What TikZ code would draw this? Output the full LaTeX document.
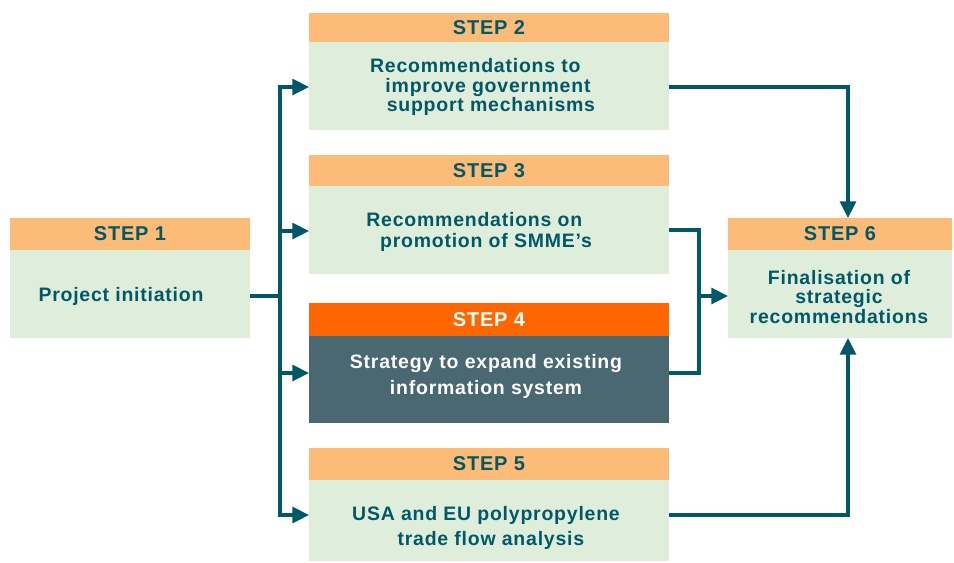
\documentclass[tikz,border=0pt]{standalone}
\usepackage{fontspec}
\setmainfont{Liberation Sans}[LetterSpace=4]
\usetikzlibrary{arrows.meta}
\definecolor{teal}{HTML}{005868}
\definecolor{hdr}{HTML}{FDBB78}
\definecolor{bodyg}{HTML}{DFEEDB}
\definecolor{hdrdark}{HTML}{FF6600}
\definecolor{bodydark}{HTML}{4A6872}
\tikzset{
  box/.style={rectangle, inner sep=0pt, outer sep=0pt, draw=none},
  hdrbox/.style={box, fill=hdr, text=teal, font=\fontsize{15}{15}\selectfont\bfseries},
  greenbox/.style={box, fill=bodyg},
  txt/.style={inner sep=0pt, align=center, text=teal},
  conn/.style={draw=teal, line width=2.4pt},
  arr/.style={conn, -{Triangle[length=12.5pt,width=12pt]}},
}
\begin{document}
\begin{tikzpicture}[x=0.75pt,y=-0.75pt]
\useasboundingbox (0,0) rectangle (954,562);
% Step 1
\node[hdrbox, minimum width=180pt, minimum height=24pt] (h1) at (130,234) {STEP 1};
\node[greenbox, minimum width=180pt, minimum height=66pt] (b1) at (130,294) {};
\node[txt, font=\fontsize{14.6}{14.6}\selectfont\bfseries] (t1) at (121,296) {Project initiation};
% Step 2
\node[hdrbox, minimum width=270pt, minimum height=21.75pt] (h2) at (489,27.5) {STEP 2};
\node[greenbox, minimum width=270pt, minimum height=66pt] (b2) at (489,86) {};
\node[txt, font=\fontsize{14.6}{14.4}\selectfont\bfseries] (t2) at (488,87) {Recommendations to\hspace*{1.3em}\\improve government\\\hspace*{0.3em}support mechanisms};
% Step 3
\node[hdrbox, minimum width=270pt, minimum height=23.25pt] (h3) at (489,170.5) {STEP 3};
\node[greenbox, minimum width=270pt, minimum height=66pt] (b3) at (489,230) {};
\node[txt, font=\fontsize{14.6}{15.75}\selectfont\bfseries] (t3) at (486,232) {Recommendations on\hspace*{1.2em}\\promotion of SMME’s};
% Step 4
\node[hdrbox, fill=hdrdark, text=white, minimum width=270pt, minimum height=24.75pt] (h4) at (489,319.5) {STEP 4};
\node[box, fill=bodydark, minimum width=270pt, minimum height=65.25pt] (b4) at (489,379.5) {};
\node[txt, text=white, font=\fontsize{14.6}{19.5}\selectfont\bfseries] (t4) at (486,376) {Strategy to expand existing\\information system};
% Step 5
\node[hdrbox, minimum width=270pt, minimum height=24pt] (h5) at (489,464) {STEP 5};
\node[greenbox, minimum width=270pt, minimum height=60.75pt] (b5) at (489,520.5) {};
\node[txt, font=\fontsize{14.6}{18.75}\selectfont\bfseries] (t5) at (486,528) {USA and EU polypropylene\\\hspace*{0.5em}trade flow analysis};
% Step 6
\node[hdrbox, minimum width=168pt, minimum height=24pt] (h6) at (840,234) {STEP 6};
\node[greenbox, minimum width=168pt, minimum height=66pt] (b6) at (840,294) {};
\node[txt, font=\fontsize{14.6}{14.4}\selectfont\bfseries] (t6) at (839,297) {Finalisation of\\strategic\\recommendations};
% junction coordinates
\coordinate (j1) at (280,296);
\coordinate (a2) at (309,87);
\coordinate (a3) at (309,231);
\coordinate (a4) at (309,373);
\coordinate (a5) at (309,515);
\coordinate (r2) at (669,87);
\coordinate (r3) at (669,230);
\coordinate (r4) at (669,373);
\coordinate (r5) at (669,515);
\coordinate (c2) at (848,87);
\coordinate (c5) at (848,515);
\coordinate (m1) at (699,230);
\coordinate (m2) at (699,373);
\coordinate (m3) at (699,296);
\coordinate (e6t) at (848,218);
\coordinate (e6b) at (848,338);
% connectors
\draw[conn] (b1.east |- j1) -- (j1);
\draw[arr] (j1) |- (a2);
\draw[arr] (j1) |- (a3);
\draw[arr] (j1) |- (a4);
\draw[arr] (j1) |- (a5);
\draw[arr] (r2) -- (c2) -- (e6t);
\draw[arr] (r5) -- (c5) -- (e6b);
\draw[conn] (r3) -- (m1) -- (m2) -- (r4);
\draw[arr] (m3) -- (b6.west |- m3);
\end{tikzpicture}
\end{document}
